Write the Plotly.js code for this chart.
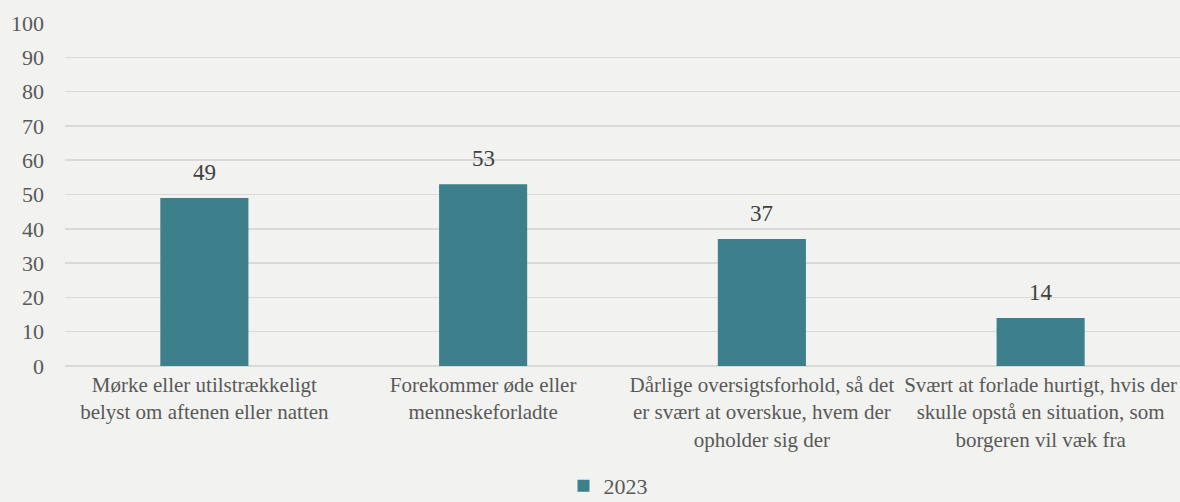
<!DOCTYPE html>
<html><head><meta charset="utf-8">
<script src="https://cdn.plot.ly/plotly-3.0.1.min.js"></script>
<style>html,body{margin:0;padding:0;background:#f2f2f0;}</style>
</head><body>
<div id="chart" style="width:1180px;height:502px;"></div>
<script>
const categories = [
  "Mørke eller utilstrækkeligt<br>belyst om aftenen eller natten",
  "Forekommer øde eller<br>menneskeforladte",
  "Dårlige oversigtsforhold, så det<br>er svært at overskue, hvem der<br>opholder sig der",
  "Svært at forlade hurtigt, hvis der<br>skulle opstå en situation, som<br>borgeren vil væk fra"
];
const values2023 = [49, 53, 37, 14];
const seriesName = "2023";
const yTicks = [0,10,20,30,40,50,60,70,80,90,100];

const font = "Liberation Serif";
const labelAnnotations = categories.map((c, i) => ({
  x: c, y: values2023[i], xref: "x", yref: "y",
  text: String(values2023[i]), showarrow: false,
  yanchor: "bottom", yshift: 11,
  font: {family: font, size: 23, color: "#404040"}
}));
Plotly.newPlot("chart", [{
  type: "bar",
  x: categories,
  y: values2023,
  name: seriesName,
  marker: {color: "#3d7f8b"},
  hoverinfo: "none"
}], {
  width: 1180, height: 502,
  paper_bgcolor: "#f2f2f0",
  plot_bgcolor: "#f2f2f0",
  margin: {l: 65, r: 0, t: 23, b: 136, autoexpand: false},
  bargap: 0.684,
  font: {family: font, color: "#595959"},
  showlegend: true,
  annotations: labelAnnotations,
  legend: {orientation: "h", x: 0.487, xanchor: "center", yref: "container", y: 0.032, yanchor: "middle",
           font: {family: font, size: 22, color: "#595959"}, itemwidth: 30, bgcolor: "rgba(0,0,0,0)"},
  xaxis: {tickfont: {family: font, size: 21, color: "#595959"}, ticks: "", showline: false, automargin: false,
          ticklabelstandoff: 4},
  yaxis: {range: [0, 100], tickvals: yTicks, ticktext: yTicks.map(String),
          tickfont: {family: font, size: 22, color: "#595959"},
          gridcolor: "#d9d9d9", gridwidth: 1.5, zeroline: true, zerolinecolor: "#d9d9d9", zerolinewidth: 2,
          showline: false, ticks: "", ticklabelstandoff: 20, automargin: false}
}, {displayModeBar: false, staticPlot: true});
</script>
</body></html>
